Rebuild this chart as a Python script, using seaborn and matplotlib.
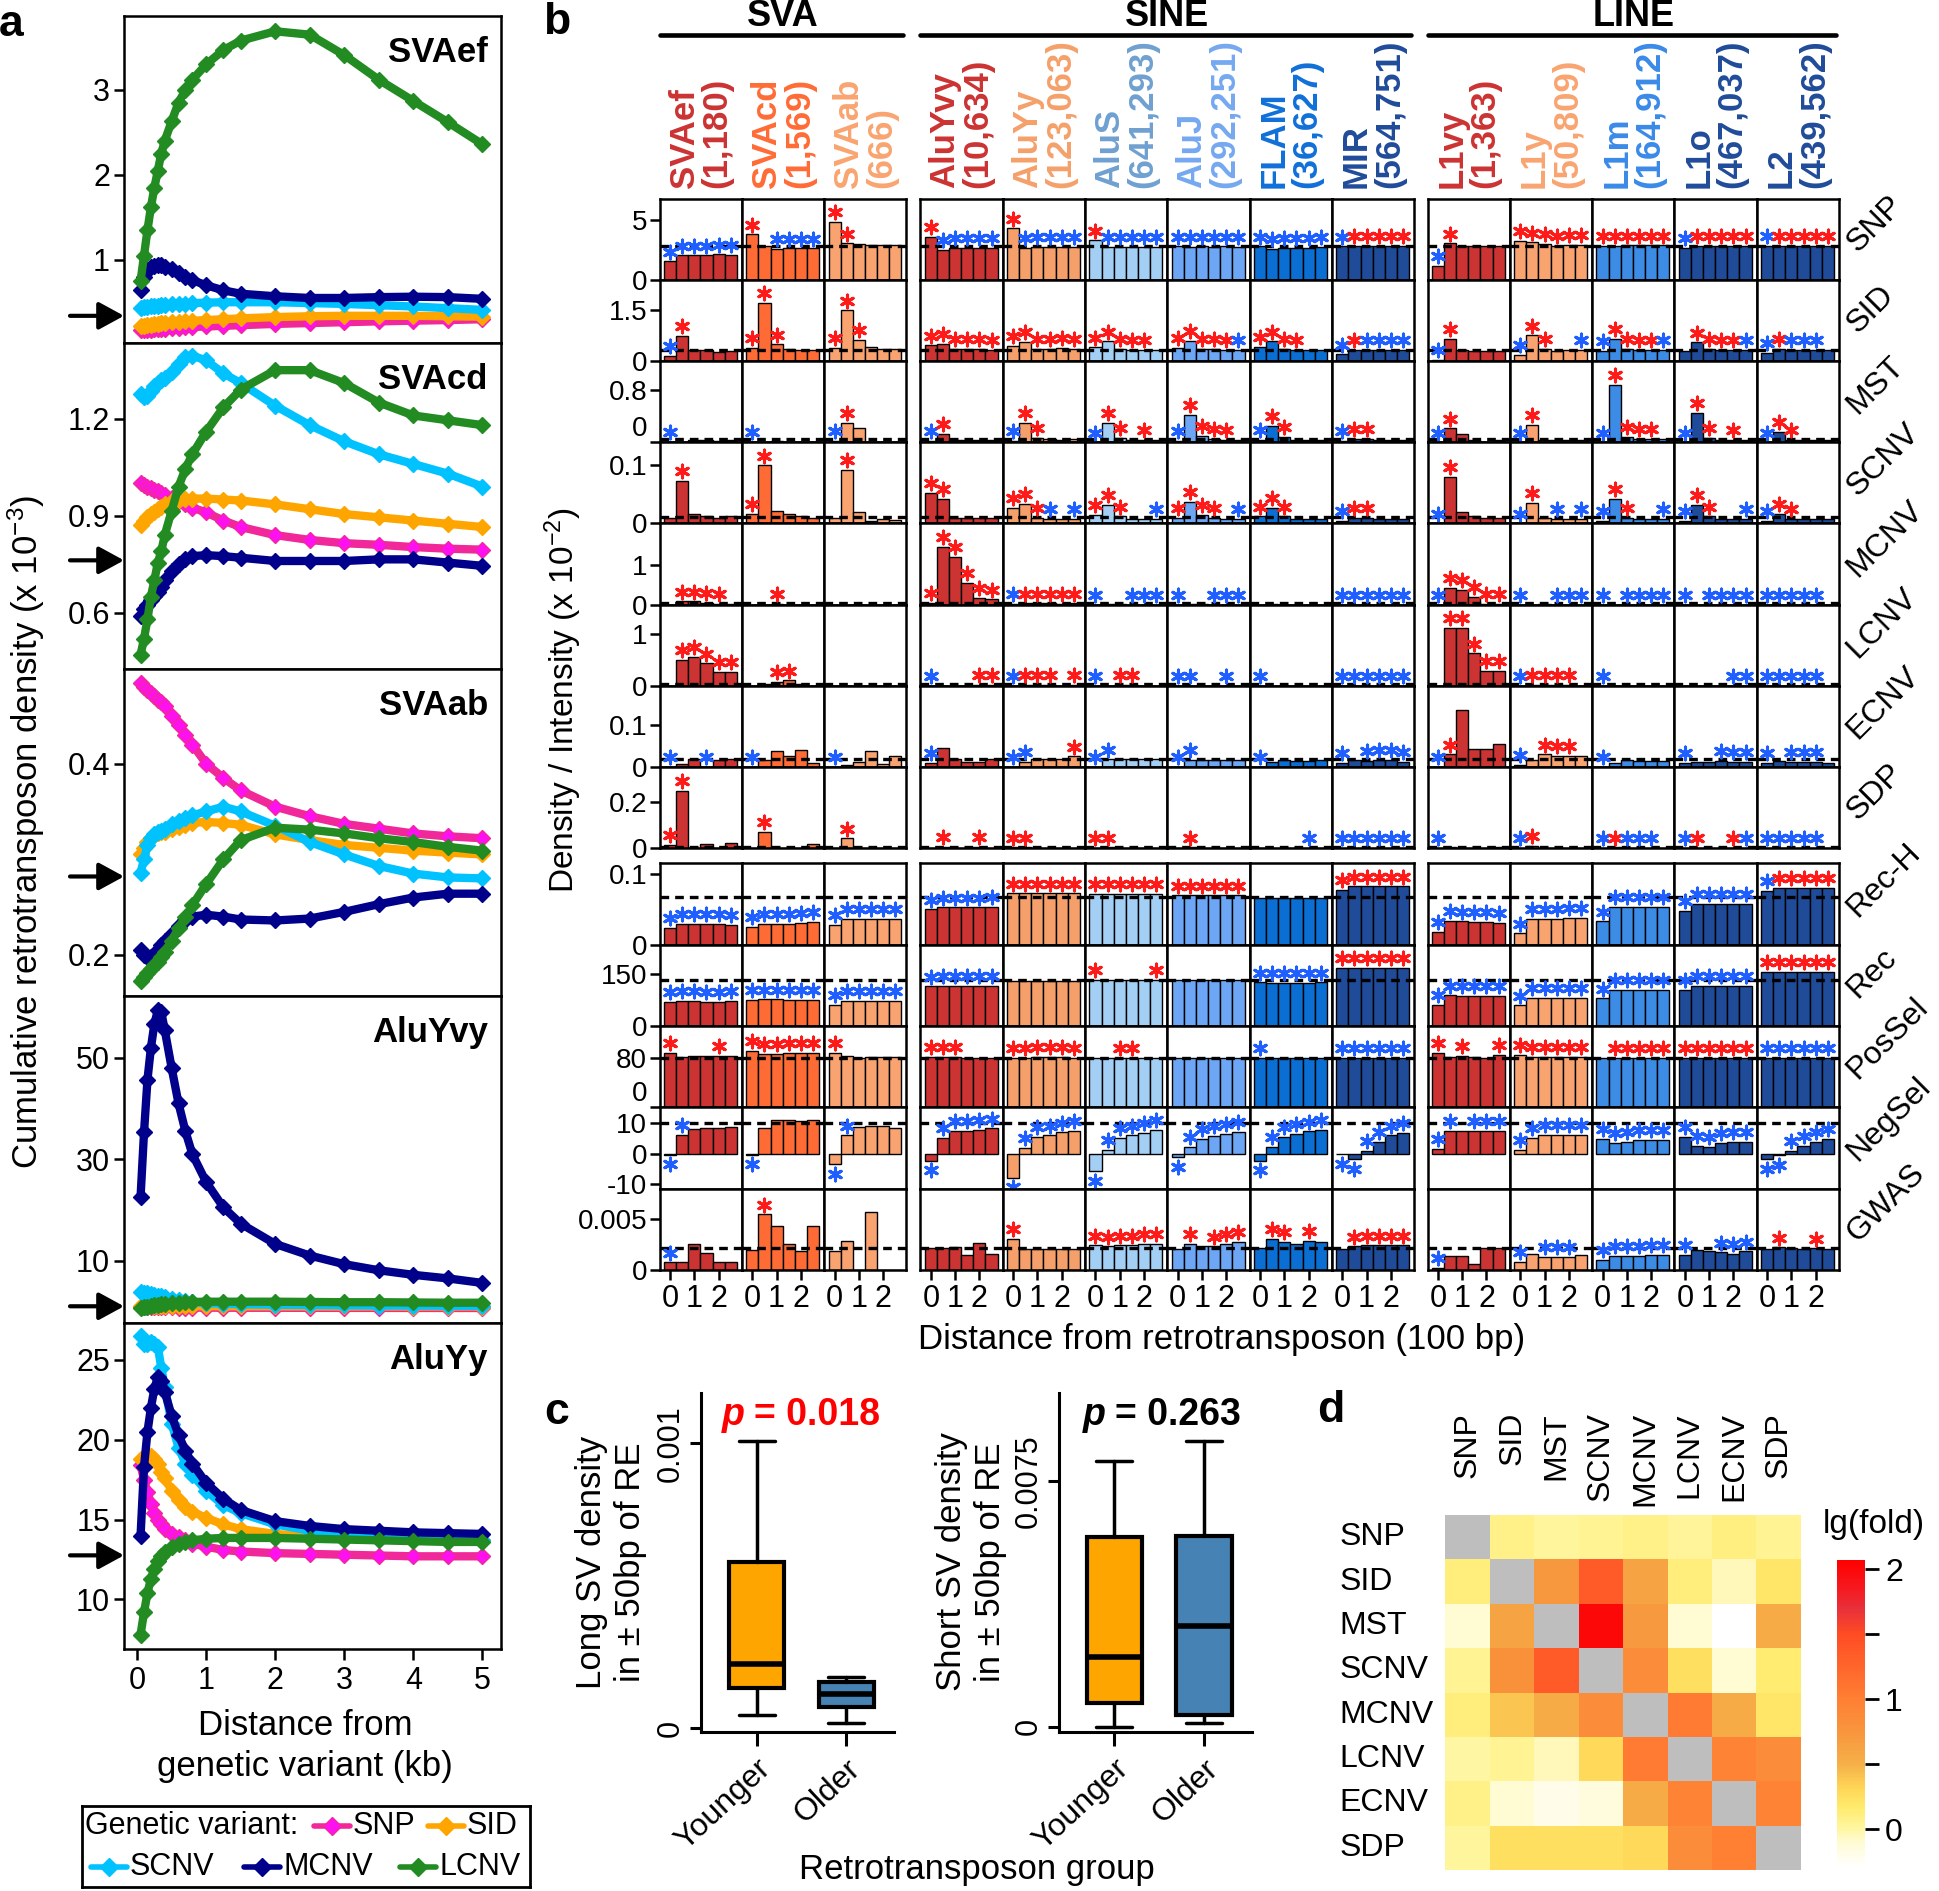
import matplotlib
matplotlib.use("Agg")
import matplotlib.pyplot as plt
import matplotlib.cm as cm
import pandas as pd
import seaborn as sns
from matplotlib.colors import LinearSegmentedColormap, Normalize
from matplotlib.lines import Line2D

# ---------------- panel a: cumulative density around variants ----------------
DIST_KB = [0.05, 0.1, 0.15, 0.2, 0.25, 0.3, 0.35, 0.4, 0.5, 0.6, 0.7, 0.8,
           1.0, 1.25, 1.5, 2.0, 2.5, 3.0, 3.5, 4.0, 4.5, 5.0]
VARIANTS = ["SNP", "SID", "SCNV", "MCNV", "LCNV"]
PANEL_A_RE = ["SVAef", "SVAcd", "SVAab", "AluYvy", "AluYy"]

SVAEF = {
    "SNP": [0.17, 0.172, 0.175, 0.178, 0.18, 0.183, 0.185, 0.188, 0.193, 0.198, 0.203, 0.208,
            0.215, 0.222, 0.23, 0.245, 0.255, 0.265, 0.275, 0.283, 0.29, 0.30],
    "SID": [0.22, 0.225, 0.23, 0.235, 0.24, 0.245, 0.25, 0.255, 0.262, 0.27, 0.276, 0.282,
            0.29, 0.30, 0.31, 0.325, 0.335, 0.34, 0.34, 0.34, 0.335, 0.33],
    "SCNV": [0.43, 0.44, 0.445, 0.45, 0.455, 0.46, 0.465, 0.47, 0.475, 0.48, 0.485, 0.49,
             0.495, 0.5, 0.5, 0.5, 0.49, 0.48, 0.465, 0.45, 0.43, 0.41],
    "MCNV": [0.64, 0.8, 0.88, 0.91, 0.93, 0.94, 0.935, 0.92, 0.89, 0.85, 0.8, 0.76,
             0.7, 0.64, 0.6, 0.57, 0.55, 0.55, 0.56, 0.565, 0.56, 0.54],
    "LCNV": [0.75, 1.05, 1.35, 1.62, 1.85, 2.05, 2.25, 2.4, 2.63, 2.85, 3.0, 3.12,
             3.3, 3.47, 3.58, 3.69, 3.65, 3.41, 3.12, 2.87, 2.62, 2.36],
}
SVACD = {
    "SNP": [1.0, 0.995, 0.99, 0.985, 0.98, 0.975, 0.97, 0.965, 0.955, 0.945, 0.935, 0.925,
            0.91, 0.885, 0.865, 0.84, 0.825, 0.815, 0.81, 0.803, 0.798, 0.795],
    "SID": [0.87, 0.885, 0.895, 0.905, 0.912, 0.92, 0.928, 0.935, 0.945, 0.95, 0.952, 0.953,
            0.953, 0.95, 0.947, 0.935, 0.92, 0.905, 0.895, 0.885, 0.875, 0.865],
    "SCNV": [1.275, 1.268, 1.27, 1.285, 1.3, 1.31, 1.32, 1.325, 1.345, 1.37, 1.39, 1.395,
             1.38, 1.34, 1.31, 1.24, 1.18, 1.13, 1.09, 1.06, 1.03, 0.99],
    "MCNV": [0.59, 0.61, 0.625, 0.64, 0.652, 0.665, 0.68, 0.7, 0.73, 0.75, 0.765, 0.775,
             0.778, 0.775, 0.77, 0.76, 0.76, 0.76, 0.765, 0.765, 0.755, 0.745],
    "LCNV": [0.47, 0.52, 0.58, 0.65, 0.70, 0.755, 0.79, 0.84, 0.915, 0.99, 1.045, 1.09,
             1.16, 1.235, 1.29, 1.35, 1.35, 1.31, 1.25, 1.21, 1.195, 1.18],
}
SVAAB = {
    "SNP": [0.484, 0.48, 0.477, 0.474, 0.471, 0.467, 0.464, 0.46, 0.45, 0.44, 0.43, 0.42,
            0.40, 0.385, 0.372, 0.355, 0.345, 0.337, 0.332, 0.327, 0.324, 0.322],
    "SID": [0.305, 0.312, 0.318, 0.322, 0.325, 0.327, 0.328, 0.329, 0.332, 0.334, 0.336, 0.338,
            0.339, 0.338, 0.336, 0.326, 0.32, 0.315, 0.312, 0.309, 0.307, 0.305],
    "SCNV": [0.286, 0.30, 0.315, 0.322, 0.326, 0.328, 0.33, 0.332, 0.337, 0.34, 0.343, 0.346,
             0.35, 0.355, 0.35, 0.335, 0.318, 0.305, 0.293, 0.285, 0.281, 0.28],
    "MCNV": [0.205, 0.2, 0.198, 0.198, 0.2, 0.205, 0.21, 0.215, 0.222, 0.23, 0.236, 0.24,
             0.242, 0.24, 0.237, 0.236, 0.238, 0.245, 0.253, 0.26, 0.264, 0.264],
    "LCNV": [0.173, 0.177, 0.181, 0.185, 0.189, 0.193, 0.198, 0.203, 0.215, 0.228, 0.24, 0.252,
             0.274, 0.30, 0.32, 0.333, 0.331, 0.327, 0.322, 0.318, 0.313, 0.309],
}
ALUYVY = {
    "SNP": [0.9, 0.88, 0.86, 0.84, 0.82, 0.8, 0.79, 0.78, 0.76, 0.75, 0.74, 0.73,
            0.72, 0.71, 0.7, 0.7, 0.69, 0.68, 0.68, 0.67, 0.67, 0.66],
    "SID": [1.0, 1.05, 1.08, 1.1, 1.1, 1.1, 1.1, 1.1, 1.08, 1.06, 1.05, 1.04,
            1.02, 1.0, 1.0, 0.98, 0.97, 0.96, 0.96, 0.95, 0.95, 0.95],
    "SCNV": [3.8, 3.7, 3.6, 3.4, 3.3, 3.1, 3.0, 2.8, 2.5, 2.2, 2.0, 1.8,
             1.6, 1.5, 1.4, 1.3, 1.25, 1.2, 1.15, 1.15, 1.1, 1.1],
    "MCNV": [22.6, 35.3, 45.7, 52.0, 56.7, 59.4, 59.0, 55.5, 48.0, 41.0, 35.5, 31.0,
             25.5, 20.5, 17.3, 13.3, 11.0, 9.3, 8.1, 7.2, 6.5, 5.6],
    "LCNV": [0.6, 0.8, 0.95, 1.1, 1.2, 1.3, 1.4, 1.5, 1.6, 1.7, 1.8, 1.85,
             1.9, 1.9, 1.9, 1.9, 1.85, 1.8, 1.8, 1.75, 1.7, 1.7],
}
ALUYY = {
    "SNP": [18.4, 17.5, 16.7, 16.0, 15.4, 15.0, 14.7, 14.4, 14.1, 13.9, 13.7, 13.5,
            13.3, 13.1, 13.0, 12.9, 12.85, 12.8, 12.75, 12.7, 12.7, 12.7],
    "SID": [18.8, 18.9, 19.0, 18.95, 18.8, 18.5, 18.0, 17.6, 16.8, 16.2, 15.8, 15.5,
            15.1, 14.7, 14.4, 14.1, 13.95, 13.85, 13.8, 13.75, 13.7, 13.7],
    "SCNV": [26.5, 26.0, 26.0, 26.1, 26.0, 25.8, 24.5, 23.3, 21.0, 19.5, 18.5, 17.8,
             16.8, 15.9, 15.4, 14.7, 14.3, 14.1, 13.9, 13.8, 13.75, 13.7],
    "MCNV": [14.0, 18.3, 20.5, 22.0, 23.2, 23.9, 23.7, 23.0, 21.5, 20.3, 19.3, 18.5,
             17.3, 16.3, 15.6, 14.9, 14.6, 14.4, 14.3, 14.2, 14.15, 14.1],
    "LCNV": [7.8, 9.2, 10.4, 11.3, 11.9, 12.4, 12.7, 13.0, 13.3, 13.5, 13.6, 13.7,
             13.8, 13.85, 13.85, 13.85, 13.8, 13.75, 13.7, 13.65, 13.6, 13.6],
}
PANEL_A_DENSITY = {"SVAef": SVAEF, "SVAcd": SVACD, "SVAab": SVAAB, "AluYvy": ALUYVY, "AluYy": ALUYY}
GENOME_AVG_A = [0.34, 0.762, 0.282, 1.0, 12.76]

# ---------------- panel b: density / intensity around retrotransposons ----------------
RE_NAMES = ["SVAef", "SVAcd", "SVAab", "AluYvy", "AluYy", "AluS", "AluJ", "FLAM", "MIR",
            "L1vy", "L1y", "L1m", "L1o", "L2"]
RE_COUNTS = ["1,180", "1,569", "666", "10,634", "123,063", "641,293", "292,251", "36,627",
             "564,751", "1,363", "50,809", "164,912", "467,037", "439,562"]
RE_GROUPS = ["SVA", "SINE", "LINE"]
GROUP_SIZES = [3, 6, 5]
BIN_POS = [0, 0.5, 1.0, 1.5, 2.0, 2.5]
FEATURES = ["SNP", "SID", "MST", "SCNV", "MCNV", "LCNV", "ECNV", "SDP",
            "Rec-H", "Rec", "PosSel", "NegSel", "GWAS"]
GENOME_MEAN = [2.83, 0.33, 0.054, 0.011, 0.03, 0.03, 0.019, 0.004,
               0.0674, 135, 80, 10, 0.0021]

BARS_SNP = [[1.55, 2.05, 2.05, 2.05, 2.15, 2.1], [3.8, 2.85, 2.6, 2.65, 2.65, 2.65],
            [4.85, 3.05, 3.0, 2.95, 2.9, 2.9], [3.6, 2.5, 2.7, 2.7, 2.7, 2.7],
            [4.3, 2.7, 2.75, 2.75, 2.75, 2.75], [3.3, 2.75, 2.75, 2.75, 2.75, 2.75],
            [2.8, 2.75, 2.8, 2.75, 2.8, 2.75], [2.8, 2.6, 2.7, 2.7, 2.7, 2.75],
            [2.8, 2.85, 2.85, 2.85, 2.85, 2.85], [1.2, 3.05, 2.85, 2.85, 2.85, 2.85],
            [3.25, 3.15, 3.0, 2.85, 2.95, 2.95], [2.85, 2.85, 2.9, 2.9, 2.9, 2.9],
            [2.7, 2.85, 2.85, 2.85, 2.85, 2.85], [2.85, 2.85, 2.85, 2.85, 2.85, 2.85]]
STARS_SNP = ["bbbbbb", "r.bbbb", "rr....", "rbbbbb", "rbbbbb", "rbbbbb", "bbbbbb",
             "bbbbbb", "brrrrr", "br....", "rrrrrr", "rrrrrr", "brrrrr", "brrrrr"]

BARS_SID = [[0.16, 0.73, 0.33, 0.33, 0.27, 0.31], [0.39, 1.69, 0.49, 0.36, 0.33, 0.33],
            [0.38, 1.48, 0.62, 0.42, 0.36, 0.36], [0.46, 0.51, 0.36, 0.36, 0.36, 0.34],
            [0.45, 0.57, 0.36, 0.36, 0.38, 0.36], [0.4, 0.58, 0.35, 0.34, 0.34, 0.34],
            [0.38, 0.6, 0.36, 0.35, 0.34, 0.34], [0.42, 0.58, 0.36, 0.33, 0.33, 0.33],
            [0.2, 0.33, 0.33, 0.32, 0.32, 0.33], [0.05, 0.65, 0.33, 0.3, 0.3, 0.3],
            [0.18, 0.75, 0.36, 0.3, 0.33, 0.33], [0.3, 0.66, 0.36, 0.33, 0.33, 0.33],
            [0.3, 0.55, 0.36, 0.33, 0.33, 0.33], [0.25, 0.36, 0.33, 0.33, 0.33, 0.33]]
STARS_SID = ["br....", "rrr...", "rrr...", "rrrrrr", "rrrrrr", "rrrrr.", "rrrrrb",
             "rrrr..", "brbbbb", "br....", "brr..b", "brrrrb", ".rrrrb", "brbbb."]

BARS_MST = [[0.01, 0.0, 0.03, 0.03, 0.02, 0.03], [0.01, 0.0, 0.02, 0.01, 0.0, 0.0],
            [0.02, 0.3, 0.22, 0.0, 0.0, 0.0], [0.02, 0.13, 0.04, 0.04, 0.04, 0.04],
            [0.02, 0.3, 0.07, 0.05, 0.04, 0.05], [0.0, 0.3, 0.07, 0.04, 0.04, 0.04],
            [0.02, 0.42, 0.1, 0.05, 0.04, 0.04], [0.04, 0.25, 0.08, 0.04, 0.04, 0.04],
            [0.02, 0.05, 0.05, 0.04, 0.04, 0.04], [0.0, 0.21, 0.12, 0.04, 0.0, 0.04],
            [0.0, 0.26, 0.03, 0.03, 0.03, 0.03], [0.0, 0.87, 0.08, 0.05, 0.05, 0.05],
            [0.0, 0.45, 0.07, 0.04, 0.04, 0.04], [0.0, 0.16, 0.04, 0.03, 0.03, 0.03]]
STARS_MST = ["b.....", "b.....", "br....", "br....", "brr...", "brr.r.", "brrrr.",
             "brr...", "brr...", "br....", "br....", "brrrr.", "brr.r.", "brr..."]

BARS_SCNV = [[0.01, 0.073, 0.016, 0.012, 0.01, 0.012], [0.016, 0.099, 0.022, 0.016, 0.012, 0.01],
             [0.01, 0.091, 0.02, 0.005, 0.008, 0.006], [0.052, 0.042, 0.01, 0.01, 0.01, 0.01],
             [0.026, 0.033, 0.01, 0.008, 0.008, 0.008], [0.015, 0.031, 0.012, 0.008, 0.008, 0.008],
             [0.01, 0.037, 0.014, 0.01, 0.008, 0.008], [0.012, 0.027, 0.012, 0.008, 0.008, 0.008],
             [0.004, 0.01, 0.01, 0.008, 0.008, 0.008], [0.0, 0.079, 0.02, 0.012, 0.01, 0.01],
             [0.0, 0.035, 0.01, 0.008, 0.008, 0.008], [0.005, 0.042, 0.01, 0.008, 0.008, 0.008],
             [0.005, 0.032, 0.012, 0.008, 0.008, 0.008], [0.004, 0.016, 0.008, 0.008, 0.008, 0.008]]
STARS_SCNV = [".r....", "rr....", ".r....", "rr....", "rrrb.b", "rrr..b", "rrrr.b",
              "rrr...", "brr...", "br....", "br.b.b", "brr..b", "brr..b", "brr..."]

BARS_MCNV = [[0.0, 0.08, 0.08, 0.04, 0.02, 0.02], [0.0, 0.0, 0.02, 0.0, 0.0, 0.0],
             [0.0, 0.0, 0.0, 0.0, 0.0, 0.0], [0.04, 1.45, 1.2, 0.55, 0.17, 0.13],
             [0.01, 0.03, 0.03, 0.03, 0.02, 0.03], [0.0, 0.01, 0.01, 0.0, 0.0, 0.0],
             [0.0, 0.01, 0.01, 0.0, 0.0, 0.0], [0.0, 0.01, 0.0, 0.0, 0.0, 0.0],
             [0.0, 0.0, 0.0, 0.0, 0.0, 0.0], [0.0, 0.42, 0.375, 0.2, 0.02, 0.02],
             [0.0, 0.0, 0.01, 0.0, 0.0, 0.0], [0.0, 0.0, 0.0, 0.0, 0.0, 0.0],
             [0.0, 0.0, 0.0, 0.0, 0.0, 0.0], [0.0, 0.0, 0.0, 0.0, 0.0, 0.0]]
STARS_MCNV = [".rrrr.", "..r...", "......", "rrrrrr", "brrrrr", "b..bbb", "b..bbb",
              "......", "bbbbbb", "brrrrr", "b..bbb", "b.bbbb", "b.bbbb", "bbbbb."]

BARS_LCNV = [[0.0, 0.49, 0.55, 0.43, 0.27, 0.26], [0.0, 0.03, 0.08, 0.1, 0.03, 0.0],
             [0.0, 0.0, 0.0, 0.0, 0.0, 0.0], [0.0, 0.0, 0.0, 0.0, 0.01, 0.01],
             [0.0, 0.01, 0.01, 0.01, 0.0, 0.01], [0.0, 0.0, 0.01, 0.01, 0.0, 0.0],
             [0.0, 0.0, 0.0, 0.0, 0.0, 0.0], [0.0, 0.0, 0.0, 0.0, 0.0, 0.0],
             [0.0, 0.0, 0.0, 0.0, 0.0, 0.0], [0.0, 1.11, 1.11, 0.62, 0.28, 0.28],
             [0.0, 0.01, 0.01, 0.01, 0.01, 0.0], [0.0, 0.0, 0.0, 0.0, 0.0, 0.0],
             [0.0, 0.0, 0.0, 0.0, 0.0, 0.0], [0.0, 0.0, 0.0, 0.0, 0.0, 0.0]]
STARS_LCNV = [".rrrrr", "..rr..", "......", "b...rr", "brrr.r", "b.rr..", "bb..b.",
              "b.....", "bbbbbb", ".rrrrr", "brrrr.", "b.....", "....bb", "bbbbb."]

BARS_ECNV = [[0.0, 0.006, 0.018, 0.0, 0.016, 0.018], [0.0, 0.016, 0.039, 0.026, 0.04, 0.01],
             [0.0, 0.005, 0.012, 0.037, 0.006, 0.027], [0.01, 0.046, 0.018, 0.012, 0.012, 0.018],
             [0.0, 0.012, 0.018, 0.018, 0.018, 0.025], [0.0, 0.018, 0.018, 0.018, 0.018, 0.018],
             [0.0, 0.016, 0.016, 0.016, 0.016, 0.016], [0.0, 0.012, 0.016, 0.014, 0.014, 0.016],
             [0.01, 0.016, 0.014, 0.016, 0.016, 0.012], [0.0, 0.03, 0.138, 0.043, 0.043, 0.054],
             [0.005, 0.016, 0.03, 0.027, 0.027, 0.025], [0.0, 0.01, 0.016, 0.014, 0.014, 0.014],
             [0.01, 0.012, 0.012, 0.014, 0.012, 0.012], [0.01, 0.014, 0.012, 0.012, 0.012, 0.01]]
STARS_ECNV = ["b..b..", "b.....", "b.....", "b.....", "bb...r", "bb....", "bb....",
              "b.....", "b.bbbb", "br....", "b.rrr.", "b.....", "b..bbb", "b.bbb."]

BARS_SDP = [[0.012, 0.252, 0.0, 0.015, 0.0, 0.022], [0.0, 0.071, 0.0, 0.0, 0.0, 0.016],
            [0.0, 0.042, 0.0, 0.0, 0.0, 0.0], [0.0, 0.004, 0.0, 0.0, 0.003, 0.0],
            [0.002, 0.002, 0.0, 0.0, 0.0, 0.0], [0.0, 0.002, 0.0, 0.0, 0.0, 0.0],
            [0.0, 0.002, 0.0, 0.0, 0.0, 0.0], [0.0, 0.0, 0.0, 0.0, 0.0, 0.0],
            [0.0, 0.0, 0.0, 0.0, 0.0, 0.0], [0.0, 0.003, 0.0, 0.0, 0.0, 0.006],
            [0.0, 0.01, 0.0, 0.0, 0.0, 0.0], [0.0, 0.002, 0.0, 0.0, 0.0, 0.0],
            [0.0, 0.0, 0.0, 0.0, 0.0, 0.0], [0.0, 0.0, 0.0, 0.0, 0.0, 0.0]]
STARS_SDP = ["rr....", ".r....", ".r....", ".r..r.", "rr....", "rr....", ".r....",
             "....b.", "bbbbbb", "b.....", "br....", "brbbb.", "br..rb", "bbbbb."]

BARS_RECH = [[0.024, 0.029, 0.029, 0.029, 0.029, 0.028], [0.0255, 0.029, 0.03, 0.03, 0.031, 0.032],
             [0.028, 0.037, 0.037, 0.037, 0.037, 0.037], [0.05, 0.053, 0.053, 0.053, 0.053, 0.054],
             [0.073, 0.073, 0.073, 0.073, 0.073, 0.073], [0.072, 0.072, 0.072, 0.072, 0.072, 0.072],
             [0.07, 0.07, 0.07, 0.07, 0.07, 0.07], [0.067, 0.067, 0.067, 0.067, 0.067, 0.067],
             [0.0785, 0.083, 0.083, 0.083, 0.083, 0.083], [0.0185, 0.0335, 0.033, 0.032, 0.032, 0.031],
             [0.016, 0.037, 0.037, 0.037, 0.038, 0.038], [0.033, 0.0535, 0.0535, 0.0535, 0.0535, 0.0535],
             [0.0475, 0.0585, 0.0585, 0.0585, 0.0585, 0.0585], [0.076, 0.081, 0.081, 0.081, 0.081, 0.081]]
STARS_RECH = ["bbbbbb", "bbbbbb", "bbbbbb", "bbbbbb", "rrrrrr", "rrrrrr", "rrrrrr",
              "......", "rrrrrr", "bbbbbb", "bbbbbb", "bbbbbb", "bbbbbb", "brrrrr"]

BARS_REC = [[71, 72, 72, 71, 71, 72], [76, 77, 77, 76, 76, 76], [61, 72, 72, 72, 72, 72],
            [115, 117, 117, 117, 117, 117], [132, 131, 132, 132, 132, 132],
            [134, 133, 133, 133, 133, 135], [133, 133, 133, 133, 133, 133],
            [127, 126, 126, 126, 126, 127], [168, 168, 168, 168, 168, 168],
            [61, 89, 88, 88, 88, 87], [60, 82, 82, 82, 82, 82], [80, 106, 106, 106, 106, 106],
            [105, 116, 116, 116, 116, 116], [157, 157, 157, 157, 157, 157]]
STARS_REC = ["bbbbbb", "bbbbbb", "bbbbbb", "bbbbbb", "......", "r....r", "......",
             "bbbbbb", "rrrrrr", "bbbbbb", "bbbbbb", "bbbbbb", "bbbbbb", "rrrrrr"]

BARS_POSSEL = [[88, 81, 82, 82, 83, 82], [91, 86, 86, 87, 87, 87], [87, 82, 79, 81, 81, 81],
               [81, 81, 81, 80, 79, 79], [80, 80, 81, 81, 81, 80], [80, 79, 80, 80, 79, 79],
               [79, 79, 79, 79, 79, 79], [79, 79, 79, 79, 79, 79], [79, 79, 79, 79, 79, 79],
               [87, 81, 83, 81, 80, 84], [84, 81, 81, 81, 81, 81], [80, 80, 80, 80, 80, 80],
               [80, 80, 80, 80, 80, 80], [80, 80, 80, 80, 80, 80]]
STARS_POSSEL = ["r...r.", "rrrrrr", "r.....", "rrr...", "rrrrrr", "..rr..", "......",
                "b.....", "bbbbbb", "r.r..r", "rrrrrr", ".rrrrr", "rrrrrr", "bbbbbb"]

BARS_NEGSEL = [[-0.3, 6.2, 8.2, 8.3, 8.4, 8.6], [-0.3, 8.5, 11.1, 11.1, 10.7, 10.9],
               [-3.5, 6.0, 8.9, 9.2, 9.0, 8.3], [-2.2, 5.1, 7.4, 7.5, 7.8, 8.3],
               [-7.8, 1.85, 5.6, 6.0, 7.0, 7.5], [-5.6, 1.2, 5.1, 6.0, 6.9, 7.8],
               [-1.2, 2.3, 4.8, 5.8, 6.6, 7.2], [-2.2, 2.2, 5.6, 6.5, 7.3, 7.9],
               [-0.2, -1.7, 0.9, 3.8, 6.0, 6.9], [1.6, 7.4, 7.6, 7.5, 7.5, 7.5],
               [1.3, 5.1, 6.1, 6.1, 6.1, 6.1], [4.9, 3.5, 4.0, 4.6, 4.6, 4.6],
               [5.4, 2.6, 2.2, 3.5, 3.8, 3.8], [-1.7, -0.5, 0.9, 2.7, 4.0, 4.8]]
STARS_NEGSEL = ["bb....", "b.....", "bb....", "bbbbbb", "bbbbbb", "bbbbbb", "bbbbbb",
                "bbbbbb", "bbbbbb", "bb.bbb", "bbbbbb", "bbbbbb", "bbbbbb", "bbbbbb"]

BARS_GWAS = [[0.00074, 0.0008, 0.0025, 0.00168, 0.0008, 0.0008],
             [0.0019, 0.0054, 0.0043, 0.0025, 0.0018, 0.0043],
             [0.0018, 0.0028, 0.0, 0.0056, 0.0, 0.0],
             [0.0021, 0.0021, 0.0022, 0.0015, 0.0026, 0.0016],
             [0.003, 0.002, 0.002, 0.002, 0.002, 0.002],
             [0.0024, 0.0023, 0.0024, 0.0024, 0.0025, 0.0025],
             [0.002, 0.0025, 0.0023, 0.0023, 0.0025, 0.0027],
             [0.0021, 0.003, 0.0027, 0.0025, 0.0028, 0.0027],
             [0.002, 0.0023, 0.0024, 0.0024, 0.0024, 0.0024],
             [0.0002, 0.0014, 0.0014, 0.0006, 0.0021, 0.0021],
             [0.0008, 0.0016, 0.0013, 0.0013, 0.0013, 0.0015],
             [0.001, 0.0014, 0.0014, 0.0014, 0.0015, 0.0015],
             [0.00145, 0.0019, 0.0018, 0.0017, 0.0016, 0.0018],
             [0.002, 0.0022, 0.0021, 0.002, 0.0021, 0.002]]
STARS_GWAS = ["b.....", ".r....", "......", "......", "r.....", "rrrrrr", ".r.rrr",
              ".rr.r.", ".rrrrr", "b.....", "b.bbb.", "bbbbbb", "b..bbb", ".r..r."]

FEATURE_BARS = dict(zip(FEATURES, [BARS_SNP, BARS_SID, BARS_MST, BARS_SCNV, BARS_MCNV, BARS_LCNV,
                                   BARS_ECNV, BARS_SDP, BARS_RECH, BARS_REC, BARS_POSSEL,
                                   BARS_NEGSEL, BARS_GWAS]))
FEATURE_STARS = dict(zip(FEATURES, [STARS_SNP, STARS_SID, STARS_MST, STARS_SCNV, STARS_MCNV,
                                    STARS_LCNV, STARS_ECNV, STARS_SDP, STARS_RECH, STARS_REC,
                                    STARS_POSSEL, STARS_NEGSEL, STARS_GWAS]))

# ---------------- panel c: SV density by retrotransposon age ----------------
AGE_GROUPS = ["Younger", "Older"]
LONG_WHISLO = [0.0000467, 0.0000197]
LONG_Q1 = [0.00014, 0.0000758]
LONG_MED = [0.000226, 0.000119]
LONG_Q3 = [0.000585, 0.000164]
LONG_WHISHI = [0.001008, 0.000181]
SHORT_WHISLO = [0.0, 0.000122]
SHORT_Q1 = [0.00073, 0.000357]
SHORT_MED = [0.00214, 0.00308]
SHORT_Q3 = [0.0058, 0.00583]
SHORT_WHISHI = [0.00811, 0.00872]
P_LONG, P_SHORT = "0.018", "0.263"

# ---------------- panel d: co-localisation fold change ----------------
SV_TYPES = ["SNP", "SID", "MST", "SCNV", "MCNV", "LCNV", "ECNV", "SDP"]
nan = float("nan")
LG_FOLD = [
    [nan, 0.08, 0.02, 0.05, 0.08, 0.03, 0.1, 0.05],
    [0.12, nan, 0.72, 1.35, 0.62, 0.12, -0.05, 0.2],
    [-0.1, 0.62, nan, 2.0, 0.7, -0.1, -0.3, 0.55],
    [0.05, 0.8, 1.35, nan, 0.85, 0.25, -0.1, 0.15],
    [0.12, 0.4, 0.55, 0.85, nan, 1.05, 0.55, 0.2],
    [0.0, 0.05, -0.05, 0.3, 1.05, nan, 0.95, 0.85],
    [0.08, -0.1, -0.2, -0.15, 0.55, 0.95, nan, 0.95],
    [0.02, 0.25, 0.25, 0.25, 0.3, 0.85, 1.0, nan],
]

# ---------------- styling ----------------
VARIANT_COLORS = {"SNP": "#F0289A", "SID": "#FFA500", "SCNV": "#00C2FF",
                  "MCNV": "#00008B", "LCNV": "#228B22"}
VARIANT_FACE = {"SNP": "#FF10F0", "SID": "#FFA500", "SCNV": "#00C2FF",
                "MCNV": "#00008B", "LCNV": "#228B22"}
RE_COLORS = ["#CC3333", "#FF6B35", "#F9A470", "#CC3333", "#F5A06A", "#A4CFF5", "#6CA6F5",
             "#0A6ED2", "#1F4B99", "#CC3333", "#F9A470", "#3C8CE6", "#1F4B99", "#1F4B99"]
RE_LABEL_COLORS = ["#CC3333", "#FF6B35", "#F9A470", "#CC3333", "#F5A06A", "#6FA0D0", "#75A8F0",
                   "#1070D8", "#1F4B99", "#CC3333", "#F9A470", "#3A8AE8", "#1F4B99", "#1F4B99"]
STAR_COLORS = {"r": "#FF1A1A", "b": "#1F5FFF"}

sns.set_theme(style="ticks", rc={"axes.edgecolor": "black", "xtick.color": "black",
                                 "ytick.color": "black", "text.color": "black",
                                 "axes.labelcolor": "black", "axes.linewidth": 1.8})
plt.rcParams["font.family"] = ["Liberation Sans", "DejaVu Sans"]
plt.rcParams["mathtext.fontset"] = "custom"
plt.rcParams["mathtext.rm"] = "Liberation Sans"
plt.rcParams["mathtext.it"] = "Liberation Sans:italic"
plt.rcParams["mathtext.bf"] = "Liberation Sans:bold"

W, H = 1940, 1891
fig = plt.figure(figsize=(W / 100, H / 100), dpi=100)


def px_axes(x0, y0, x1, y1):
    return fig.add_axes([x0 / W, 1 - y1 / H, (x1 - x0) / W, (y1 - y0) / H])


def fig_text(x, y, s, **kw):
    return fig.text(x / W, 1 - y / H, s, **kw)


TICK_FS = 20
LABEL_FS = 25

# ---- panel a ----
A_EDGES = [16, 343, 669, 996, 1323, 1649]
A_YLIMS = [(0.02, 3.87), (0.426, 1.434), (0.157, 0.499), (-2.3, 62.2), (6.9, 27.3)]
A_YTICKS = [[1, 2, 3], [0.6, 0.9, 1.2], [0.2, 0.4], [10, 30, 50], [10, 15, 20, 25]]
for i, re_name in enumerate(PANEL_A_RE):
    ax = px_axes(124, A_EDGES[i], 501, A_EDGES[i + 1])
    curves = PANEL_A_DENSITY[re_name]
    for var in VARIANTS:
        sns.lineplot(x=DIST_KB, y=curves[var], ax=ax, color=VARIANT_COLORS[var],
                     linewidth=6, marker="D", markersize=8,
                     markerfacecolor=VARIANT_FACE[var], markeredgecolor=VARIANT_COLORS[var],
                     markeredgewidth=1, estimator=None, legend=False)
    ax.set_xlim(-0.19, 5.27)
    ax.set_ylim(*A_YLIMS[i])
    ax.set_yticks(A_YTICKS[i], labels=[f"{t:g}" for t in A_YTICKS[i]])
    ax.set_xlabel("")
    ax.set_ylabel("")
    for sp in ax.spines.values():
        sp.set_linewidth(1.8)
    ax.tick_params(axis="y", direction="out", length=7, width=1.8, labelsize=22, pad=3)
    if i < 4:
        ax.tick_params(axis="x", bottom=False, labelbottom=False)
    else:
        ax.set_xticks(range(6), labels=[str(t) for t in range(6)])
        ax.tick_params(axis="x", direction="out", length=8, width=1.8, labelsize=22, pad=4)
    ax.text(0.965, 0.94, re_name, transform=ax.transAxes, ha="right", va="top",
            fontsize=25, fontweight="bold")
    ax.annotate("", xy=(0, GENOME_AVG_A[i]), xycoords=("axes fraction", "data"),
                xytext=(-54, 0), textcoords="offset pixels", annotation_clip=False,
                arrowprops=dict(arrowstyle="-|>,head_length=0.55,head_width=0.3",
                                mutation_scale=28, color="black", lw=3,
                                shrinkA=0, shrinkB=0))

fig_text(26, 832, "Cumulative retrotransposon density (x 10$^{-3}$)", rotation=90,
         ha="center", va="center", fontsize=LABEL_FS)
fig_text(305, 1746, "Distance from\ngenetic variant (kb)", ha="center", va="center",
         fontsize=LABEL_FS, linespacing=1.3)

# legend of panel a
leg = px_axes(82, 1806, 530, 1887)
leg.set_xlim(0, 448)
leg.set_ylim(81, 0)
leg.set_xticks([])
leg.set_yticks([])
for sp in leg.spines.values():
    sp.set_linewidth(2)
leg.text(3, 20, "Genetic variant:", ha="left", va="center", fontsize=22)
LEG_POS = {"SNP": (232, 20), "SID": (346, 20), "SCNV": (9, 61), "MCNV": (162, 61), "LCNV": (318, 61)}
for var, (hx, hy) in LEG_POS.items():
    leg.add_line(Line2D([hx, hx + 36], [hy, hy], color=VARIANT_COLORS[var], lw=4))
    leg.plot([hx + 18], [hy], marker="D", markersize=9, color=VARIANT_FACE[var],
             markeredgecolor=VARIANT_COLORS[var])
    leg.text(hx + 39, hy, var, ha="left", va="center", fontsize=22)

# ---- panel b ----
ROW_YLIM = {"SNP": (0, 6.75), "SID": (0, 2.36), "MST": (0, 1.23), "SCNV": (0, 0.138),
            "MCNV": (0, 2.03), "LCNV": (0, 1.56), "ECNV": (0, 0.196), "SDP": (0, 0.357),
            "Rec-H": (0, 0.116), "Rec": (0, 237), "PosSel": (0, 131), "NegSel": (-11.4, 15.2),
            "GWAS": (0, 0.0079)}
ROW_TICKS = {"SNP": [0, 5], "SID": [0, 1.5], "MST": [0, 0.8], "SCNV": [0, 0.1],
             "MCNV": [0, 1], "LCNV": [0, 1], "ECNV": [0, 0.1], "SDP": [0, 0.2],
             "Rec-H": [0, 0.1], "Rec": [0, 150], "PosSel": [0, 80], "NegSel": [-10, 0, 10],
             "GWAS": [0, 0.005]}
# rows whose "0" label sits too close to the next row's top label
RAISE_ZERO = {"MST", "PosSel"}
GROUP_X0 = [659.6, 920.4, 1427.5]
CELL_W = 82.3
row_tops = [199 + r * 81.11 for r in range(8)] + [863.2 + r * 81.36 for r in range(5)]
row_hs = [81.11] * 8 + [81.36] * 5
col_left = []
for start, n in zip(GROUP_X0, GROUP_SIZES):
    col_left += [start + k * CELL_W for k in range(n)]

for r, feat in enumerate(FEATURES):
    ylim = ROW_YLIM[feat]
    off = 0.12 * (ylim[1] - ylim[0])
    for c, re_name in enumerate(RE_NAMES):
        ax = px_axes(col_left[c], row_tops[r], col_left[c] + CELL_W, row_tops[r] + row_hs[r])
        vals = FEATURE_BARS[feat][c]
        ax.bar(BIN_POS, vals, width=0.5, color=RE_COLORS[c], edgecolor="black",
               linewidth=1.0, zorder=2)
        ax.axhline(GENOME_MEAN[r], color="black", lw=2.4, ls=(0, (2.6, 1.8)), zorder=3)
        for k, s in enumerate(FEATURE_STARS[feat][c]):
            if s == ".":
                continue
            v = vals[k]
            y = v + off if v >= 0 else v - off
            ax.scatter([BIN_POS[k]], [y], marker=(6, 2, 0), s=85, color=STAR_COLORS[s],
                       linewidths=2.2, zorder=5, clip_on=False)
        ax.set_xlim(-0.43, 2.96)
        ax.set_ylim(*ylim)
        for sp in ax.spines.values():
            sp.set_linewidth(1.8)
        if c == 0:
            ax.set_yticks(ROW_TICKS[feat], labels=[f"{t:g}" for t in ROW_TICKS[feat]])
            ax.tick_params(axis="y", direction="out", length=7, width=1.8,
                           labelsize=TICK_FS, pad=2)
            if feat in RAISE_ZERO:
                ax.get_yticklabels()[0].set_va("bottom")
        else:
            ax.set_yticks([])
        if r == len(FEATURES) - 1:
            ax.set_xticks([0, 1, 2], labels=["0", "1", "2"])
            ax.tick_params(axis="x", direction="out", length=7, width=1.8,
                           labelsize=22, pad=3)
        else:
            ax.set_xticks([])
    rc = row_tops[r] + row_hs[r] / 2
    fig_text(1852, rc + 8, feat, rotation=45, ha="left", va="center",
             rotation_mode="anchor", fontsize=23)

for c, re_name in enumerate(RE_NAMES):
    fig_text(col_left[c] + CELL_W / 2, 188, f"{re_name}\n({RE_COUNTS[c]})", rotation=90,
             ha="center", va="bottom", color=RE_LABEL_COLORS[c], fontsize=25,
             fontweight="bold", linespacing=1.0, multialignment="left")

g_start = 0
for g, (name, n) in enumerate(zip(RE_GROUPS, GROUP_SIZES)):
    x0 = col_left[g_start]
    x1 = col_left[g_start + n - 1] + CELL_W
    fig.add_artist(Line2D([x0 / W, (x1 - 3) / W], [1 - 34.6 / H] * 2, color="black", lw=3.3))
    fig_text((x0 + x1) / 2, 16, name, ha="center", va="center", fontsize=26, fontweight="bold")
    g_start += n

fig_text(563, 700, "Density / Intensity (x 10$^{-2}$)", rotation=90, ha="center",
         va="center", fontsize=24)
fig_text(1222, 1340, "Distance from retrotransposon (100 bp)", ha="center", va="center",
         fontsize=LABEL_FS)


# ---- panel c ----
def draw_box(ax, whislo, q1, med, q3, whishi, ylim, ticks):
    stats = [dict(whislo=a, q1=b, med=m, q3=d, whishi=e, label=g)
             for a, b, m, d, e, g in zip(whislo, q1, med, q3, whishi, AGE_GROUPS)]
    bp = ax.bxp(stats, positions=[0, 1], widths=0.62, patch_artist=True, showfliers=False,
                boxprops=dict(linewidth=3, edgecolor="black"),
                medianprops=dict(color="black", linewidth=4),
                whiskerprops=dict(color="black", linewidth=2.5),
                capprops=dict(color="black", linewidth=2.5), capwidths=0.4)
    for patch, col in zip(bp["boxes"], ["#FFA500", "#4682B4"]):
        patch.set_facecolor(col)
    ax.set_xlim(-0.62, 1.53)
    ax.set_ylim(*ylim)
    sns.despine(ax=ax)
    ax.spines["left"].set_linewidth(2.2)
    ax.spines["bottom"].set_linewidth(2.2)
    ax.set_yticks(ticks, labels=[f"{t:g}" for t in ticks])
    for lbl in ax.get_yticklabels():
        lbl.set_rotation(90)
        lbl.set_va("center")
    ax.set_xticks([0, 1], labels=AGE_GROUPS)
    for lbl in ax.get_xticklabels():
        lbl.set_rotation(43)
        lbl.set_ha("right")
        lbl.set_rotation_mode("anchor")
    ax.tick_params(axis="y", direction="out", length=8, width=2.2, labelsize=22, pad=3)
    ax.tick_params(axis="x", direction="out", length=10, width=2.2, labelsize=23, pad=6)


ax_long = px_axes(701, 1393.3, 894, 1731.7)
draw_box(ax_long, LONG_WHISLO, LONG_Q1, LONG_MED, LONG_Q3, LONG_WHISHI,
         (-0.000012, 0.001175), [0, 0.001])
ax_short = px_axes(1058.7, 1393.3, 1251.6, 1731.7)
draw_box(ax_short, SHORT_WHISLO, SHORT_Q1, SHORT_MED, SHORT_Q3, SHORT_WHISHI,
         (-0.000153, 0.01018), [0, 0.0075])

fig_text(722, 1415, "p", ha="left", va="center", fontsize=27, fontweight="bold",
         fontstyle="italic", color="#FF0000")
fig_text(754, 1415, "= " + P_LONG, ha="left", va="center", fontsize=27, fontweight="bold",
         color="#FF0000")
fig_text(1083, 1415, "p", ha="left", va="center", fontsize=27, fontweight="bold",
         fontstyle="italic")
fig_text(1115, 1415, "= " + P_SHORT, ha="left", va="center", fontsize=27, fontweight="bold")
fig_text(611, 1562, "Long SV density\nin \u00b1 50bp of RE", rotation=90, ha="center",
         va="center", fontsize=LABEL_FS, linespacing=1.25)
fig_text(971, 1562, "Short SV density\nin \u00b1 50bp of RE", rotation=90, ha="center",
         va="center", fontsize=LABEL_FS, linespacing=1.25)
fig_text(977, 1870, "Retrotransposon group", ha="center", va="center", fontsize=LABEL_FS)

# ---- panel d ----
CB_STOPS = [-0.3, -0.1, 0.0, 0.15, 0.3, 0.5, 0.75, 1.0, 1.5, 1.7, 1.85, 2.07]
CB_COLORS = ["#FFFFFF", "#FFFBD2", "#FFF6A2", "#FFEC70", "#FFD858", "#F5B048", "#F8953D",
             "#FF7F33", "#FF4C24", "#E8303A", "#F51A20", "#FF0000"]
VMIN, VMAX = -0.3, 2.07
lg_cmap = LinearSegmentedColormap.from_list(
    "lgfold", [((v - VMIN) / (VMAX - VMIN), col) for v, col in zip(CB_STOPS, CB_COLORS)])
fold_df = pd.DataFrame(LG_FOLD, index=SV_TYPES, columns=SV_TYPES)

ax_h = px_axes(1445.5, 1515, 1800.8, 1870)
sns.heatmap(fold_df, ax=ax_h, cmap=lg_cmap, vmin=VMIN, vmax=VMAX, cbar=False,
            xticklabels=False, yticklabels=False)
ax_h.set_facecolor("#BEBEBE")
ax_h.set_xlabel("")
ax_h.set_ylabel("")
for j, name in enumerate(SV_TYPES):
    ax_h.text(j + 0.5, 1.29, name, transform=ax_h.get_xaxis_transform(), rotation=90,
              ha="center", va="top", fontsize=23)
    ax_h.text(-2.38, j + 0.5, name, ha="left", va="center", fontsize=23)

ax_cb = px_axes(1837, 1560, 1865.5, 1868)
cb = fig.colorbar(cm.ScalarMappable(norm=Normalize(VMIN, VMAX), cmap=lg_cmap), cax=ax_cb)
cb.outline.set_visible(False)
cb.set_ticks([0, 0.5, 1, 1.5, 2], labels=["0", "", "1", "", "2"])
ax_cb.tick_params(length=10, width=2, labelsize=23, pad=4)
fig_text(1874, 1525, "lg(fold)", ha="center", va="center", fontsize=24)

# ---- panel letters ----
for letter, (lx, ly) in {"a": (11, 24), "b": (557, 22), "c": (557, 1413), "d": (1331, 1411)}.items():
    fig_text(lx, ly, letter, ha="center", va="center", fontsize=32, fontweight="bold")

fig.savefig("out.png", dpi=100)
